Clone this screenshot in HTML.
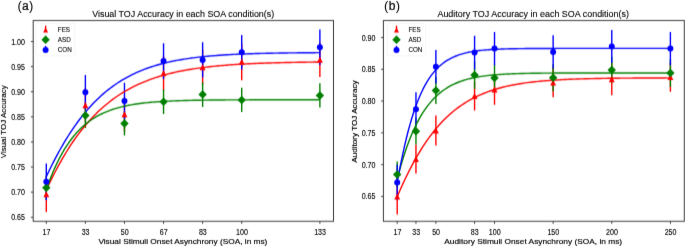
<!DOCTYPE html>
<html><head><meta charset="utf-8"><style>
html,body{margin:0;padding:0;background:#fff;overflow:hidden;}
svg{display:block;}
text{font-family:"Liberation Sans",sans-serif;fill:#000;}
.tk{font-size:8.2px;stroke:#000;stroke-width:0.12px;}
.lg{font-size:7.3px;stroke:#000;stroke-width:0.1px;}
.ti{font-size:8.9px;stroke:#000;stroke-width:0.1px;}
.xl{font-size:7.8px;stroke:#000;stroke-width:0.16px;}
.pl{font-size:11.5px;}
</style></head><body>
<svg width="685" height="246" viewBox="0 0 685 246">
<defs>
<clipPath id="cl"><rect x="33.2" y="20.5" width="300.30" height="200.80"/></clipPath>
<clipPath id="cr"><rect x="383.4" y="20.5" width="300.90" height="200.80"/></clipPath>
<filter id="bl" filterUnits="userSpaceOnUse" x="0" y="0" width="685" height="246" color-interpolation-filters="sRGB"><feConvolveMatrix order="3" kernelMatrix="0.0080 0.1440 0.0080 0.0340 0.6120 0.0340 0.0080 0.1440 0.0080" divisor="1" edgeMode="none"/></filter>
<filter id="tb" filterUnits="userSpaceOnUse" x="0" y="0" width="685" height="246" color-interpolation-filters="sRGB"><feConvolveMatrix order="3" kernelMatrix="0.0040 0.0920 0.0040 0.0320 0.7360 0.0320 0.0040 0.0920 0.0040" divisor="1" edgeMode="none"/></filter>
</defs>
<rect width="685" height="246" fill="#fff"/>
<g filter="url(#bl)">
<rect x="33.2" y="20.5" width="300.30" height="200.80" fill="none" stroke="#3a3a3a" stroke-width="1.0"/>
<line x1="46.30" y1="221.3" x2="46.30" y2="223.80" stroke="#3a3a3a" stroke-width="1"/>
<line x1="85.38" y1="221.3" x2="85.38" y2="223.80" stroke="#3a3a3a" stroke-width="1"/>
<line x1="124.47" y1="221.3" x2="124.47" y2="223.80" stroke="#3a3a3a" stroke-width="1"/>
<line x1="163.55" y1="221.3" x2="163.55" y2="223.80" stroke="#3a3a3a" stroke-width="1"/>
<line x1="202.63" y1="221.3" x2="202.63" y2="223.80" stroke="#3a3a3a" stroke-width="1"/>
<line x1="241.72" y1="221.3" x2="241.72" y2="223.80" stroke="#3a3a3a" stroke-width="1"/>
<line x1="319.88" y1="221.3" x2="319.88" y2="223.80" stroke="#3a3a3a" stroke-width="1"/>
<line x1="30.90" y1="41.50" x2="33.2" y2="41.50" stroke="#3a3a3a" stroke-width="1"/>
<line x1="30.90" y1="66.61" x2="33.2" y2="66.61" stroke="#3a3a3a" stroke-width="1"/>
<line x1="30.90" y1="91.72" x2="33.2" y2="91.72" stroke="#3a3a3a" stroke-width="1"/>
<line x1="30.90" y1="116.83" x2="33.2" y2="116.83" stroke="#3a3a3a" stroke-width="1"/>
<line x1="30.90" y1="141.94" x2="33.2" y2="141.94" stroke="#3a3a3a" stroke-width="1"/>
<line x1="30.90" y1="167.05" x2="33.2" y2="167.05" stroke="#3a3a3a" stroke-width="1"/>
<line x1="30.90" y1="192.16" x2="33.2" y2="192.16" stroke="#3a3a3a" stroke-width="1"/>
<line x1="30.90" y1="217.27" x2="33.2" y2="217.27" stroke="#3a3a3a" stroke-width="1"/>
<rect x="383.4" y="20.5" width="300.90" height="200.80" fill="none" stroke="#3a3a3a" stroke-width="1.0"/>
<line x1="397.20" y1="221.3" x2="397.20" y2="223.80" stroke="#3a3a3a" stroke-width="1"/>
<line x1="415.96" y1="221.3" x2="415.96" y2="223.80" stroke="#3a3a3a" stroke-width="1"/>
<line x1="435.89" y1="221.3" x2="435.89" y2="223.80" stroke="#3a3a3a" stroke-width="1"/>
<line x1="474.58" y1="221.3" x2="474.58" y2="223.80" stroke="#3a3a3a" stroke-width="1"/>
<line x1="494.52" y1="221.3" x2="494.52" y2="223.80" stroke="#3a3a3a" stroke-width="1"/>
<line x1="553.14" y1="221.3" x2="553.14" y2="223.80" stroke="#3a3a3a" stroke-width="1"/>
<line x1="611.77" y1="221.3" x2="611.77" y2="223.80" stroke="#3a3a3a" stroke-width="1"/>
<line x1="670.39" y1="221.3" x2="670.39" y2="223.80" stroke="#3a3a3a" stroke-width="1"/>
<line x1="381.10" y1="37.50" x2="383.4" y2="37.50" stroke="#3a3a3a" stroke-width="1"/>
<line x1="381.10" y1="69.28" x2="383.4" y2="69.28" stroke="#3a3a3a" stroke-width="1"/>
<line x1="381.10" y1="101.06" x2="383.4" y2="101.06" stroke="#3a3a3a" stroke-width="1"/>
<line x1="381.10" y1="132.84" x2="383.4" y2="132.84" stroke="#3a3a3a" stroke-width="1"/>
<line x1="381.10" y1="164.62" x2="383.4" y2="164.62" stroke="#3a3a3a" stroke-width="1"/>
<line x1="381.10" y1="196.40" x2="383.4" y2="196.40" stroke="#3a3a3a" stroke-width="1"/>
<g clip-path="url(#cl)"><path d="M46.30,176.50 V212.10 M85.38,87.70 V122.70 M124.47,96.80 V131.80 M163.55,55.80 V90.80 M202.63,49.70 V84.70 M241.72,43.40 V80.20 M319.88,42.40 V77.00" stroke="#ff0000" stroke-width="1.4" fill="none"/>
<path d="M46.30,175.50 V199.90 M85.38,103.10 V127.90 M124.47,111.60 V135.40 M163.55,89.50 V113.90 M202.63,82.20 V107.00 M241.72,87.80 V112.00 M319.88,83.20 V107.60" stroke="#008000" stroke-width="1.4" fill="none"/>
<path d="M46.30,163.40 V200.00 M85.38,74.90 V109.50 M124.47,82.70 V119.30 M163.55,43.30 V78.90 M202.63,42.20 V77.60 M241.72,35.10 V69.50 M319.88,29.50 V65.10" stroke="#0000ff" stroke-width="1.4" fill="none"/>
<path d="M46.30,189.99 L48.14,186.04 L49.97,182.19 L51.81,178.43 L53.64,174.77 L55.48,171.21 L57.32,167.74 L59.15,164.36 L60.99,161.08 L62.83,157.88 L64.66,154.78 L66.50,151.76 L68.33,148.82 L70.17,145.97 L72.01,143.20 L73.84,140.51 L75.68,137.90 L77.51,135.37 L79.35,132.91 L81.19,130.53 L83.02,128.21 L84.86,125.97 L86.69,123.80 L88.53,121.69 L90.37,119.65 L92.20,117.67 L94.04,115.75 L95.88,113.89 L97.71,112.09 L99.55,110.35 L101.38,108.66 L103.22,107.03 L105.06,105.45 L106.89,103.92 L108.73,102.44 L110.56,101.01 L112.40,99.62 L114.24,98.29 L116.07,96.99 L117.91,95.74 L119.74,94.53 L121.58,93.35 L123.42,92.22 L125.25,91.13 L127.09,90.07 L128.93,89.05 L130.76,88.06 L132.60,87.11 L134.43,86.19 L136.27,85.30 L138.11,84.44 L139.94,83.61 L141.78,82.81 L143.61,82.04 L145.45,81.29 L147.29,80.57 L149.12,79.87 L150.96,79.20 L152.79,78.55 L154.63,77.93 L156.47,77.32 L158.30,76.74 L160.14,76.18 L161.98,75.64 L163.81,75.12 L165.65,74.61 L167.48,74.13 L169.32,73.66 L171.16,73.20 L172.99,72.77 L174.83,72.35 L176.66,71.94 L178.50,71.55 L180.34,71.18 L182.17,70.81 L184.01,70.47 L185.85,70.13 L187.68,69.80 L189.52,69.49 L191.35,69.19 L193.19,68.90 L195.03,68.62 L196.86,68.35 L198.70,68.09 L200.53,67.84 L202.37,67.60 L204.21,67.37 L206.04,67.15 L207.88,66.93 L209.71,66.72 L211.55,66.53 L213.39,66.33 L215.22,66.15 L217.06,65.97 L218.90,65.80 L220.73,65.64 L222.57,65.48 L224.40,65.33 L226.24,65.18 L228.08,65.04 L229.91,64.90 L231.75,64.77 L233.58,64.65 L235.42,64.52 L237.26,64.41 L239.09,64.30 L240.93,64.19 L242.76,64.08 L244.60,63.99 L246.44,63.89 L248.27,63.80 L250.11,63.71 L251.95,63.62 L253.78,63.54 L255.62,63.46 L257.45,63.39 L259.29,63.31 L261.13,63.24 L262.96,63.18 L264.80,63.11 L266.63,63.05 L268.47,62.99 L270.31,62.93 L272.14,62.88 L273.98,62.83 L275.81,62.77 L277.65,62.73 L279.49,62.68 L281.32,62.63 L283.16,62.59 L285.00,62.55 L286.83,62.51 L288.67,62.47 L290.50,62.43 L292.34,62.40 L294.18,62.36 L296.01,62.33 L297.85,62.30 L299.68,62.27 L301.52,62.24 L303.36,62.21 L305.19,62.18 L307.03,62.16 L308.87,62.13 L310.70,62.11 L312.54,62.09 L314.37,62.07 L316.21,62.04 L318.05,62.02 L319.88,62.00" stroke="#ff0000" stroke-width="1.4" fill="none" stroke-linejoin="round"/>
<path d="M46.30,189.63 L48.14,184.44 L49.97,179.53 L51.81,174.90 L53.64,170.52 L55.48,166.39 L57.32,162.49 L59.15,158.81 L60.99,155.34 L62.83,152.06 L64.66,148.97 L66.50,146.06 L68.33,143.32 L70.17,140.73 L72.01,138.29 L73.84,135.99 L75.68,133.83 L77.51,131.79 L79.35,129.87 L81.19,128.06 L83.02,126.36 L84.86,124.76 L86.69,123.25 L88.53,121.83 L90.37,120.50 L92.20,119.24 L94.04,118.06 L95.88,116.95 L97.71,115.90 L99.55,114.92 L101.38,114.00 L103.22,113.13 L105.06,112.31 L106.89,111.54 L108.73,110.82 L110.56,110.14 L112.40,109.50 L114.24,108.90 L116.07,108.34 L117.91,107.81 L119.74,107.32 L121.58,106.85 L123.42,106.41 L125.25,106.00 L127.09,105.61 L128.93,105.25 L130.76,104.91 L132.60,104.59 L134.43,104.29 L136.27,104.01 L138.11,103.74 L139.94,103.49 L141.78,103.26 L143.61,103.04 L145.45,102.83 L147.29,102.64 L149.12,102.46 L150.96,102.29 L152.79,102.13 L154.63,101.98 L156.47,101.84 L158.30,101.71 L160.14,101.59 L161.98,101.47 L163.81,101.36 L165.65,101.26 L167.48,101.17 L169.32,101.08 L171.16,100.99 L172.99,100.92 L174.83,100.84 L176.66,100.77 L178.50,100.71 L180.34,100.65 L182.17,100.59 L184.01,100.54 L185.85,100.49 L187.68,100.44 L189.52,100.40 L191.35,100.36 L193.19,100.32 L195.03,100.28 L196.86,100.25 L198.70,100.22 L200.53,100.19 L202.37,100.16 L204.21,100.13 L206.04,100.11 L207.88,100.08 L209.71,100.06 L211.55,100.04 L213.39,100.02 L215.22,100.01 L217.06,99.99 L218.90,99.97 L220.73,99.96 L222.57,99.95 L224.40,99.93 L226.24,99.92 L228.08,99.91 L229.91,99.90 L231.75,99.89 L233.58,99.88 L235.42,99.87 L237.26,99.87 L239.09,99.86 L240.93,99.85 L242.76,99.84 L244.60,99.84 L246.44,99.83 L248.27,99.83 L250.11,99.82 L251.95,99.82 L253.78,99.81 L255.62,99.81 L257.45,99.81 L259.29,99.80 L261.13,99.80 L262.96,99.80 L264.80,99.79 L266.63,99.79 L268.47,99.79 L270.31,99.78 L272.14,99.78 L273.98,99.78 L275.81,99.78 L277.65,99.78 L279.49,99.77 L281.32,99.77 L283.16,99.77 L285.00,99.77 L286.83,99.77 L288.67,99.77 L290.50,99.77 L292.34,99.77 L294.18,99.76 L296.01,99.76 L297.85,99.76 L299.68,99.76 L301.52,99.76 L303.36,99.76 L305.19,99.76 L307.03,99.76 L308.87,99.76 L310.70,99.76 L312.54,99.76 L314.37,99.76 L316.21,99.76 L318.05,99.76 L319.88,99.76" stroke="#008000" stroke-width="1.4" fill="none" stroke-linejoin="round"/>
<path d="M46.30,176.64 L48.14,172.76 L49.97,168.97 L51.81,165.26 L53.64,161.64 L55.48,158.10 L57.32,154.65 L59.15,151.29 L60.99,148.01 L62.83,144.82 L64.66,141.71 L66.50,138.69 L68.33,135.75 L70.17,132.89 L72.01,130.11 L73.84,127.41 L75.68,124.79 L77.51,122.25 L79.35,119.78 L81.19,117.39 L83.02,115.06 L84.86,112.82 L86.69,110.64 L88.53,108.52 L90.37,106.48 L92.20,104.50 L94.04,102.58 L95.88,100.73 L97.71,98.94 L99.55,97.20 L101.38,95.52 L103.22,93.90 L105.06,92.34 L106.89,90.82 L108.73,89.36 L110.56,87.95 L112.40,86.59 L114.24,85.27 L116.07,84.00 L117.91,82.78 L119.74,81.60 L121.58,80.46 L123.42,79.36 L125.25,78.30 L127.09,77.28 L128.93,76.30 L130.76,75.35 L132.60,74.44 L134.43,73.56 L136.27,72.71 L138.11,71.89 L139.94,71.11 L141.78,70.35 L143.61,69.63 L145.45,68.93 L147.29,68.25 L149.12,67.61 L150.96,66.98 L152.79,66.39 L154.63,65.81 L156.47,65.26 L158.30,64.72 L160.14,64.21 L161.98,63.72 L163.81,63.25 L165.65,62.80 L167.48,62.36 L169.32,61.94 L171.16,61.54 L172.99,61.16 L174.83,60.79 L176.66,60.43 L178.50,60.09 L180.34,59.77 L182.17,59.45 L184.01,59.15 L185.85,58.86 L187.68,58.58 L189.52,58.32 L191.35,58.06 L193.19,57.82 L195.03,57.59 L196.86,57.36 L198.70,57.15 L200.53,56.94 L202.37,56.74 L204.21,56.56 L206.04,56.37 L207.88,56.20 L209.71,56.03 L211.55,55.88 L213.39,55.72 L215.22,55.58 L217.06,55.44 L218.90,55.30 L220.73,55.18 L222.57,55.05 L224.40,54.94 L226.24,54.82 L228.08,54.72 L229.91,54.61 L231.75,54.52 L233.58,54.42 L235.42,54.33 L237.26,54.25 L239.09,54.16 L240.93,54.09 L242.76,54.01 L244.60,53.94 L246.44,53.87 L248.27,53.80 L250.11,53.74 L251.95,53.68 L253.78,53.62 L255.62,53.57 L257.45,53.52 L259.29,53.47 L261.13,53.42 L262.96,53.37 L264.80,53.33 L266.63,53.29 L268.47,53.25 L270.31,53.21 L272.14,53.18 L273.98,53.14 L275.81,53.11 L277.65,53.08 L279.49,53.05 L281.32,53.02 L283.16,52.99 L285.00,52.96 L286.83,52.94 L288.67,52.92 L290.50,52.89 L292.34,52.87 L294.18,52.85 L296.01,52.83 L297.85,52.81 L299.68,52.80 L301.52,52.78 L303.36,52.76 L305.19,52.75 L307.03,52.73 L308.87,52.72 L310.70,52.70 L312.54,52.69 L314.37,52.68 L316.21,52.67 L318.05,52.66 L319.88,52.65" stroke="#0000ff" stroke-width="1.4" fill="none" stroke-linejoin="round"/>
<path d="M46.30,191.30 L43.30,197.30 L49.30,197.30 Z" fill="#ff0000"/>
<path d="M85.38,102.20 L82.38,108.20 L88.38,108.20 Z" fill="#ff0000"/>
<path d="M124.47,111.30 L121.47,117.30 L127.47,117.30 Z" fill="#ff0000"/>
<path d="M163.55,70.30 L160.55,76.30 L166.55,76.30 Z" fill="#ff0000"/>
<path d="M202.63,64.20 L199.63,70.20 L205.63,70.20 Z" fill="#ff0000"/>
<path d="M241.72,58.80 L238.72,64.80 L244.72,64.80 Z" fill="#ff0000"/>
<path d="M319.88,56.70 L316.88,62.70 L322.88,62.70 Z" fill="#ff0000"/>
<path d="M46.30,183.46 L50.54,187.70 L46.30,191.94 L42.06,187.70 Z" fill="#008000"/>
<path d="M85.38,111.26 L89.62,115.50 L85.38,119.74 L81.14,115.50 Z" fill="#008000"/>
<path d="M124.47,119.26 L128.71,123.50 L124.47,127.74 L120.22,123.50 Z" fill="#008000"/>
<path d="M163.55,97.46 L167.79,101.70 L163.55,105.94 L159.31,101.70 Z" fill="#008000"/>
<path d="M202.63,90.36 L206.87,94.60 L202.63,98.84 L198.39,94.60 Z" fill="#008000"/>
<path d="M241.72,95.66 L245.96,99.90 L241.72,104.14 L237.47,99.90 Z" fill="#008000"/>
<path d="M319.88,91.16 L324.12,95.40 L319.88,99.64 L315.64,95.40 Z" fill="#008000"/>
<circle cx="46.30" cy="181.70" r="3.00" fill="#0000ff"/>
<circle cx="85.38" cy="92.20" r="3.00" fill="#0000ff"/>
<circle cx="124.47" cy="101.00" r="3.00" fill="#0000ff"/>
<circle cx="163.55" cy="61.10" r="3.00" fill="#0000ff"/>
<circle cx="202.63" cy="59.90" r="3.00" fill="#0000ff"/>
<circle cx="241.72" cy="52.30" r="3.00" fill="#0000ff"/>
<circle cx="319.88" cy="47.30" r="3.00" fill="#0000ff"/></g>
<g clip-path="url(#cr)"><path d="M397.20,178.40 V214.40 M415.96,144.50 V173.50 M435.89,115.40 V145.40 M474.58,81.50 V110.50 M494.52,74.30 V104.70 M553.14,67.70 V97.30 M611.77,63.30 V95.30 M670.39,62.20 V91.80" stroke="#ff0000" stroke-width="1.4" fill="none"/>
<path d="M397.20,161.50 V187.70 M415.96,117.80 V144.60 M435.89,76.90 V103.90 M474.58,61.00 V88.80 M494.52,64.50 V91.50 M553.14,64.20 V91.20 M611.77,56.70 V83.10 M670.39,59.10 V86.70" stroke="#008000" stroke-width="1.4" fill="none"/>
<path d="M397.20,164.80 V200.00 M415.96,92.30 V126.10 M435.89,50.00 V83.40 M474.58,35.70 V69.50 M494.52,31.90 V65.30 M553.14,35.20 V68.60 M611.77,29.90 V62.90 M670.39,31.90 V65.30" stroke="#0000ff" stroke-width="1.4" fill="none"/>
<path d="M397.20,196.71 L399.03,192.47 L400.87,188.33 L402.70,184.28 L404.53,180.33 L406.37,176.49 L408.20,172.75 L410.03,169.12 L411.87,165.60 L413.70,162.18 L415.54,158.87 L417.37,155.67 L419.20,152.56 L421.04,149.56 L422.87,146.67 L424.70,143.87 L426.54,141.16 L428.37,138.56 L430.20,136.04 L432.04,133.62 L433.87,131.28 L435.70,129.03 L437.54,126.87 L439.37,124.78 L441.20,122.78 L443.04,120.85 L444.87,118.99 L446.70,117.21 L448.54,115.50 L450.37,113.85 L452.21,112.27 L454.04,110.76 L455.87,109.30 L457.71,107.91 L459.54,106.57 L461.37,105.29 L463.21,104.05 L465.04,102.88 L466.87,101.75 L468.71,100.66 L470.54,99.63 L472.37,98.63 L474.21,97.68 L476.04,96.77 L477.87,95.90 L479.71,95.07 L481.54,94.27 L483.37,93.51 L485.21,92.78 L487.04,92.08 L488.88,91.42 L490.71,90.78 L492.54,90.17 L494.38,89.59 L496.21,89.03 L498.04,88.50 L499.88,88.00 L501.71,87.51 L503.54,87.05 L505.38,86.61 L507.21,86.19 L509.04,85.79 L510.88,85.41 L512.71,85.04 L514.54,84.69 L516.38,84.36 L518.21,84.04 L520.04,83.74 L521.88,83.45 L523.71,83.18 L525.55,82.92 L527.38,82.67 L529.21,82.43 L531.05,82.20 L532.88,81.99 L534.71,81.78 L536.55,81.59 L538.38,81.40 L540.21,81.23 L542.05,81.06 L543.88,80.90 L545.71,80.74 L547.55,80.60 L549.38,80.46 L551.21,80.33 L553.05,80.20 L554.88,80.08 L556.72,79.97 L558.55,79.86 L560.38,79.76 L562.22,79.66 L564.05,79.57 L565.88,79.48 L567.72,79.40 L569.55,79.32 L571.38,79.24 L573.22,79.17 L575.05,79.10 L576.88,79.04 L578.72,78.98 L580.55,78.92 L582.38,78.86 L584.22,78.81 L586.05,78.76 L587.88,78.71 L589.72,78.67 L591.55,78.62 L593.39,78.58 L595.22,78.54 L597.05,78.51 L598.89,78.47 L600.72,78.44 L602.55,78.41 L604.39,78.38 L606.22,78.35 L608.05,78.32 L609.89,78.30 L611.72,78.27 L613.55,78.25 L615.39,78.23 L617.22,78.21 L619.05,78.19 L620.89,78.17 L622.72,78.15 L624.55,78.14 L626.39,78.12 L628.22,78.11 L630.06,78.09 L631.89,78.08 L633.72,78.06 L635.56,78.05 L637.39,78.04 L639.22,78.03 L641.06,78.02 L642.89,78.01 L644.72,78.00 L646.56,77.99 L648.39,77.98 L650.22,77.98 L652.06,77.97 L653.89,77.96 L655.72,77.96 L657.56,77.95 L659.39,77.94 L661.22,77.94 L663.06,77.93 L664.89,77.93 L666.73,77.92 L668.56,77.92 L670.39,77.91" stroke="#ff0000" stroke-width="1.4" fill="none" stroke-linejoin="round"/>
<path d="M397.20,179.19 L399.03,172.22 L400.87,165.68 L402.70,159.53 L404.53,153.76 L406.37,148.34 L408.20,143.27 L410.03,138.51 L411.87,134.05 L413.70,129.87 L415.54,125.97 L417.37,122.31 L419.20,118.89 L421.04,115.70 L422.87,112.71 L424.70,109.93 L426.54,107.32 L428.37,104.89 L430.20,102.63 L432.04,100.51 L433.87,98.54 L435.70,96.71 L437.54,95.00 L439.37,93.41 L441.20,91.92 L443.04,90.54 L444.87,89.26 L446.70,88.07 L448.54,86.96 L450.37,85.93 L452.21,84.97 L454.04,84.08 L455.87,83.25 L457.71,82.48 L459.54,81.77 L461.37,81.11 L463.21,80.50 L465.04,79.93 L466.87,79.40 L468.71,78.91 L470.54,78.46 L472.37,78.04 L474.21,77.65 L476.04,77.29 L477.87,76.96 L479.71,76.65 L481.54,76.36 L483.37,76.10 L485.21,75.86 L487.04,75.63 L488.88,75.42 L490.71,75.23 L492.54,75.05 L494.38,74.89 L496.21,74.73 L498.04,74.59 L499.88,74.46 L501.71,74.34 L503.54,74.23 L505.38,74.13 L507.21,74.04 L509.04,73.95 L510.88,73.87 L512.71,73.80 L514.54,73.73 L516.38,73.67 L518.21,73.61 L520.04,73.55 L521.88,73.51 L523.71,73.46 L525.55,73.42 L527.38,73.38 L529.21,73.35 L531.05,73.31 L532.88,73.28 L534.71,73.26 L536.55,73.23 L538.38,73.21 L540.21,73.19 L542.05,73.17 L543.88,73.15 L545.71,73.13 L547.55,73.12 L549.38,73.10 L551.21,73.09 L553.05,73.08 L554.88,73.07 L556.72,73.06 L558.55,73.05 L560.38,73.04 L562.22,73.03 L564.05,73.02 L565.88,73.02 L567.72,73.01 L569.55,73.01 L571.38,73.00 L573.22,73.00 L575.05,72.99 L576.88,72.99 L578.72,72.99 L580.55,72.98 L582.38,72.98 L584.22,72.98 L586.05,72.97 L587.88,72.97 L589.72,72.97 L591.55,72.97 L593.39,72.97 L595.22,72.96 L597.05,72.96 L598.89,72.96 L600.72,72.96 L602.55,72.96 L604.39,72.96 L606.22,72.96 L608.05,72.96 L609.89,72.96 L611.72,72.95 L613.55,72.95 L615.39,72.95 L617.22,72.95 L619.05,72.95 L620.89,72.95 L622.72,72.95 L624.55,72.95 L626.39,72.95 L628.22,72.95 L630.06,72.95 L631.89,72.95 L633.72,72.95 L635.56,72.95 L637.39,72.95 L639.22,72.95 L641.06,72.95 L642.89,72.95 L644.72,72.95 L646.56,72.95 L648.39,72.95 L650.22,72.95 L652.06,72.95 L653.89,72.95 L655.72,72.95 L657.56,72.95 L659.39,72.95 L661.22,72.95 L663.06,72.95 L664.89,72.95 L666.73,72.95 L668.56,72.95 L670.39,72.95" stroke="#008000" stroke-width="1.4" fill="none" stroke-linejoin="round"/>
<path d="M397.20,182.24 L399.03,172.49 L400.87,163.16 L402.70,154.34 L404.53,146.04 L406.37,138.27 L408.20,131.03 L410.03,124.31 L411.87,118.06 L413.70,112.29 L415.54,106.94 L417.37,102.01 L419.20,97.47 L421.04,93.28 L422.87,89.43 L424.70,85.89 L426.54,82.64 L428.37,79.65 L430.20,76.92 L432.04,74.41 L433.87,72.12 L435.70,70.01 L437.54,68.09 L439.37,66.33 L441.20,64.73 L443.04,63.26 L444.87,61.92 L446.70,60.70 L448.54,59.58 L450.37,58.56 L452.21,57.64 L454.04,56.79 L455.87,56.02 L457.71,55.32 L459.54,54.68 L461.37,54.10 L463.21,53.57 L465.04,53.09 L466.87,52.65 L468.71,52.26 L470.54,51.90 L472.37,51.57 L474.21,51.27 L476.04,51.00 L477.87,50.76 L479.71,50.53 L481.54,50.33 L483.37,50.15 L485.21,49.98 L487.04,49.83 L488.88,49.69 L490.71,49.57 L492.54,49.46 L494.38,49.36 L496.21,49.26 L498.04,49.18 L499.88,49.10 L501.71,49.04 L503.54,48.97 L505.38,48.92 L507.21,48.87 L509.04,48.82 L510.88,48.78 L512.71,48.74 L514.54,48.71 L516.38,48.68 L518.21,48.65 L520.04,48.63 L521.88,48.60 L523.71,48.58 L525.55,48.56 L527.38,48.55 L529.21,48.53 L531.05,48.52 L532.88,48.51 L534.71,48.49 L536.55,48.48 L538.38,48.48 L540.21,48.47 L542.05,48.46 L543.88,48.45 L545.71,48.45 L547.55,48.44 L549.38,48.44 L551.21,48.43 L553.05,48.43 L554.88,48.43 L556.72,48.42 L558.55,48.42 L560.38,48.42 L562.22,48.41 L564.05,48.41 L565.88,48.41 L567.72,48.41 L569.55,48.41 L571.38,48.41 L573.22,48.40 L575.05,48.40 L576.88,48.40 L578.72,48.40 L580.55,48.40 L582.38,48.40 L584.22,48.40 L586.05,48.40 L587.88,48.40 L589.72,48.40 L591.55,48.40 L593.39,48.40 L595.22,48.40 L597.05,48.40 L598.89,48.40 L600.72,48.40 L602.55,48.40 L604.39,48.39 L606.22,48.39 L608.05,48.39 L609.89,48.39 L611.72,48.39 L613.55,48.39 L615.39,48.39 L617.22,48.39 L619.05,48.39 L620.89,48.39 L622.72,48.39 L624.55,48.39 L626.39,48.39 L628.22,48.39 L630.06,48.39 L631.89,48.39 L633.72,48.39 L635.56,48.39 L637.39,48.39 L639.22,48.39 L641.06,48.39 L642.89,48.39 L644.72,48.39 L646.56,48.39 L648.39,48.39 L650.22,48.39 L652.06,48.39 L653.89,48.39 L655.72,48.39 L657.56,48.39 L659.39,48.39 L661.22,48.39 L663.06,48.39 L664.89,48.39 L666.73,48.39 L668.56,48.39 L670.39,48.39" stroke="#0000ff" stroke-width="1.4" fill="none" stroke-linejoin="round"/>
<path d="M397.20,193.40 L394.20,199.40 L400.20,199.40 Z" fill="#ff0000"/>
<path d="M415.96,156.00 L412.96,162.00 L418.96,162.00 Z" fill="#ff0000"/>
<path d="M435.89,127.40 L432.89,133.40 L438.89,133.40 Z" fill="#ff0000"/>
<path d="M474.58,93.00 L471.58,99.00 L477.58,99.00 Z" fill="#ff0000"/>
<path d="M494.52,86.50 L491.52,92.50 L497.52,92.50 Z" fill="#ff0000"/>
<path d="M553.14,79.50 L550.14,85.50 L556.14,85.50 Z" fill="#ff0000"/>
<path d="M611.77,76.30 L608.77,82.30 L614.77,82.30 Z" fill="#ff0000"/>
<path d="M670.39,74.00 L667.39,80.00 L673.39,80.00 Z" fill="#ff0000"/>
<path d="M397.20,170.36 L401.44,174.60 L397.20,178.84 L392.96,174.60 Z" fill="#008000"/>
<path d="M415.96,126.96 L420.20,131.20 L415.96,135.44 L411.72,131.20 Z" fill="#008000"/>
<path d="M435.89,86.16 L440.14,90.40 L435.89,94.64 L431.65,90.40 Z" fill="#008000"/>
<path d="M474.58,70.66 L478.83,74.90 L474.58,79.14 L470.34,74.90 Z" fill="#008000"/>
<path d="M494.52,73.76 L498.76,78.00 L494.52,82.24 L490.27,78.00 Z" fill="#008000"/>
<path d="M553.14,73.46 L557.39,77.70 L553.14,81.94 L548.90,77.70 Z" fill="#008000"/>
<path d="M611.77,65.66 L616.01,69.90 L611.77,74.14 L607.52,69.90 Z" fill="#008000"/>
<path d="M670.39,68.66 L674.64,72.90 L670.39,77.14 L666.15,72.90 Z" fill="#008000"/>
<circle cx="397.20" cy="182.40" r="3.00" fill="#0000ff"/>
<circle cx="415.96" cy="109.20" r="3.00" fill="#0000ff"/>
<circle cx="435.89" cy="66.70" r="3.00" fill="#0000ff"/>
<circle cx="474.58" cy="52.60" r="3.00" fill="#0000ff"/>
<circle cx="494.52" cy="48.60" r="3.00" fill="#0000ff"/>
<circle cx="553.14" cy="51.90" r="3.00" fill="#0000ff"/>
<circle cx="611.77" cy="46.40" r="3.00" fill="#0000ff"/>
<circle cx="670.39" cy="48.60" r="3.00" fill="#0000ff"/></g>
<rect x="36.2" y="23.4" width="38.6" height="32.3" rx="1.5" fill="#fff" fill-opacity="0.8" stroke="#f3f3f3" stroke-width="0.8"/>
<line x1="45.6" y1="25.70" x2="45.6" y2="32.10" stroke="#ff0000" stroke-width="1.4"/>
<path d="M45.60,27.50 L43.10,32.50 L48.10,32.50 Z" fill="#ff0000"/>
<line x1="45.6" y1="35.80" x2="45.6" y2="42.20" stroke="#008000" stroke-width="1.4"/>
<path d="M45.60,35.56 L49.84,39.80 L45.60,44.04 L41.36,39.80 Z" fill="#008000"/>
<line x1="45.6" y1="45.90" x2="45.6" y2="52.30" stroke="#0000ff" stroke-width="1.4"/>
<circle cx="45.60" cy="49.90" r="3.00" fill="#0000ff"/>
<rect x="387.1" y="23.4" width="38.5" height="32.3" rx="1.5" fill="#fff" fill-opacity="0.8" stroke="#f3f3f3" stroke-width="0.8"/>
<line x1="396.5" y1="25.70" x2="396.5" y2="32.10" stroke="#ff0000" stroke-width="1.4"/>
<path d="M396.50,27.50 L394.00,32.50 L399.00,32.50 Z" fill="#ff0000"/>
<line x1="396.5" y1="35.80" x2="396.5" y2="42.20" stroke="#008000" stroke-width="1.4"/>
<path d="M396.50,35.56 L400.74,39.80 L396.50,44.04 L392.26,39.80 Z" fill="#008000"/>
<line x1="396.5" y1="45.90" x2="396.5" y2="52.30" stroke="#0000ff" stroke-width="1.4"/>
<circle cx="396.50" cy="49.90" r="3.00" fill="#0000ff"/>
</g>
<g filter="url(#tb)">
<text x="46.50" y="235.0" text-anchor="middle" class="tk" textLength="7.90" lengthAdjust="spacingAndGlyphs">17</text>
<text x="85.58" y="235.0" text-anchor="middle" class="tk" textLength="7.90" lengthAdjust="spacingAndGlyphs">33</text>
<text x="124.67" y="235.0" text-anchor="middle" class="tk" textLength="7.90" lengthAdjust="spacingAndGlyphs">50</text>
<text x="163.75" y="235.0" text-anchor="middle" class="tk" textLength="7.90" lengthAdjust="spacingAndGlyphs">67</text>
<text x="202.83" y="235.0" text-anchor="middle" class="tk" textLength="7.90" lengthAdjust="spacingAndGlyphs">83</text>
<text x="241.92" y="235.0" text-anchor="middle" class="tk" textLength="11.85" lengthAdjust="spacingAndGlyphs">100</text>
<text x="320.08" y="235.0" text-anchor="middle" class="tk" textLength="11.85" lengthAdjust="spacingAndGlyphs">133</text>
<text x="25.0" y="44.50" text-anchor="end" class="tk" textLength="13.82" lengthAdjust="spacingAndGlyphs">1.00</text>
<text x="25.0" y="69.61" text-anchor="end" class="tk" textLength="13.82" lengthAdjust="spacingAndGlyphs">0.95</text>
<text x="25.0" y="94.72" text-anchor="end" class="tk" textLength="13.82" lengthAdjust="spacingAndGlyphs">0.90</text>
<text x="25.0" y="119.83" text-anchor="end" class="tk" textLength="13.82" lengthAdjust="spacingAndGlyphs">0.85</text>
<text x="25.0" y="144.94" text-anchor="end" class="tk" textLength="13.82" lengthAdjust="spacingAndGlyphs">0.80</text>
<text x="25.0" y="170.05" text-anchor="end" class="tk" textLength="13.82" lengthAdjust="spacingAndGlyphs">0.75</text>
<text x="25.0" y="195.16" text-anchor="end" class="tk" textLength="13.82" lengthAdjust="spacingAndGlyphs">0.70</text>
<text x="25.0" y="220.27" text-anchor="end" class="tk" textLength="13.82" lengthAdjust="spacingAndGlyphs">0.65</text>
<text x="397.40" y="235.0" text-anchor="middle" class="tk" textLength="7.90" lengthAdjust="spacingAndGlyphs">17</text>
<text x="416.16" y="235.0" text-anchor="middle" class="tk" textLength="7.90" lengthAdjust="spacingAndGlyphs">33</text>
<text x="436.09" y="235.0" text-anchor="middle" class="tk" textLength="7.90" lengthAdjust="spacingAndGlyphs">50</text>
<text x="474.78" y="235.0" text-anchor="middle" class="tk" textLength="7.90" lengthAdjust="spacingAndGlyphs">83</text>
<text x="494.72" y="235.0" text-anchor="middle" class="tk" textLength="11.85" lengthAdjust="spacingAndGlyphs">100</text>
<text x="553.34" y="235.0" text-anchor="middle" class="tk" textLength="11.85" lengthAdjust="spacingAndGlyphs">150</text>
<text x="611.97" y="235.0" text-anchor="middle" class="tk" textLength="11.85" lengthAdjust="spacingAndGlyphs">200</text>
<text x="670.59" y="235.0" text-anchor="middle" class="tk" textLength="11.85" lengthAdjust="spacingAndGlyphs">250</text>
<text x="375.5" y="40.50" text-anchor="end" class="tk" textLength="13.82" lengthAdjust="spacingAndGlyphs">0.90</text>
<text x="375.5" y="72.28" text-anchor="end" class="tk" textLength="13.82" lengthAdjust="spacingAndGlyphs">0.85</text>
<text x="375.5" y="104.06" text-anchor="end" class="tk" textLength="13.82" lengthAdjust="spacingAndGlyphs">0.80</text>
<text x="375.5" y="135.84" text-anchor="end" class="tk" textLength="13.82" lengthAdjust="spacingAndGlyphs">0.75</text>
<text x="375.5" y="167.62" text-anchor="end" class="tk" textLength="13.82" lengthAdjust="spacingAndGlyphs">0.70</text>
<text x="375.5" y="199.40" text-anchor="end" class="tk" textLength="13.82" lengthAdjust="spacingAndGlyphs">0.65</text>
<text x="57.8" y="32.20" class="lg" textLength="12.25" lengthAdjust="spacingAndGlyphs">FES</text>
<text x="57.8" y="42.30" class="lg" textLength="12.95" lengthAdjust="spacingAndGlyphs">ASD</text>
<text x="57.8" y="52.40" class="lg" textLength="14.00" lengthAdjust="spacingAndGlyphs">CON</text>
<text x="408.4" y="32.20" class="lg" textLength="12.25" lengthAdjust="spacingAndGlyphs">FES</text>
<text x="408.4" y="42.30" class="lg" textLength="12.95" lengthAdjust="spacingAndGlyphs">ASD</text>
<text x="408.4" y="52.40" class="lg" textLength="14.00" lengthAdjust="spacingAndGlyphs">CON</text>
<text x="183.2" y="16.5" text-anchor="middle" class="ti" textLength="182" lengthAdjust="spacingAndGlyphs">Visual TOJ Accuracy in each SOA condition(s)</text>
<text x="533.2" y="16.5" text-anchor="middle" class="ti" textLength="191.5" lengthAdjust="spacingAndGlyphs">Auditory TOJ Accuracy in each SOA condition(s)</text>
<text x="182.9" y="243.7" text-anchor="middle" class="xl" textLength="169" lengthAdjust="spacingAndGlyphs">Visual Stimuli Onset Asynchrony (SOA, in ms)</text>
<text x="533.2" y="243.7" text-anchor="middle" class="xl" textLength="177.8" lengthAdjust="spacingAndGlyphs">Auditory Stimuli Onset Asynchrony (SOA, in ms)</text>
<text transform="translate(5.6,121.75) rotate(-90)" text-anchor="middle" class="xl" textLength="73" lengthAdjust="spacingAndGlyphs">Visual TOJ Accuracy</text>
<text transform="translate(357.0,121.6) rotate(-90)" text-anchor="middle" class="xl" textLength="82.4" lengthAdjust="spacingAndGlyphs">Auditory TOJ Accuracy</text>
<text class="pl"><tspan x="17.4" y="9.6" font-size="13">(</tspan><tspan x="21.9" y="9.5" font-size="12" style="stroke:#000;stroke-width:0.2px">a</tspan><tspan x="28.9" y="9.6" font-size="13">)</tspan></text>
<text class="pl"><tspan x="384.0" y="9.6" font-size="13">(</tspan><tspan x="388.7" y="9.5" font-size="12" style="stroke:#000;stroke-width:0.2px">b</tspan><tspan x="395.8" y="9.6" font-size="13">)</tspan></text>
</g>
</svg>
</body></html>
